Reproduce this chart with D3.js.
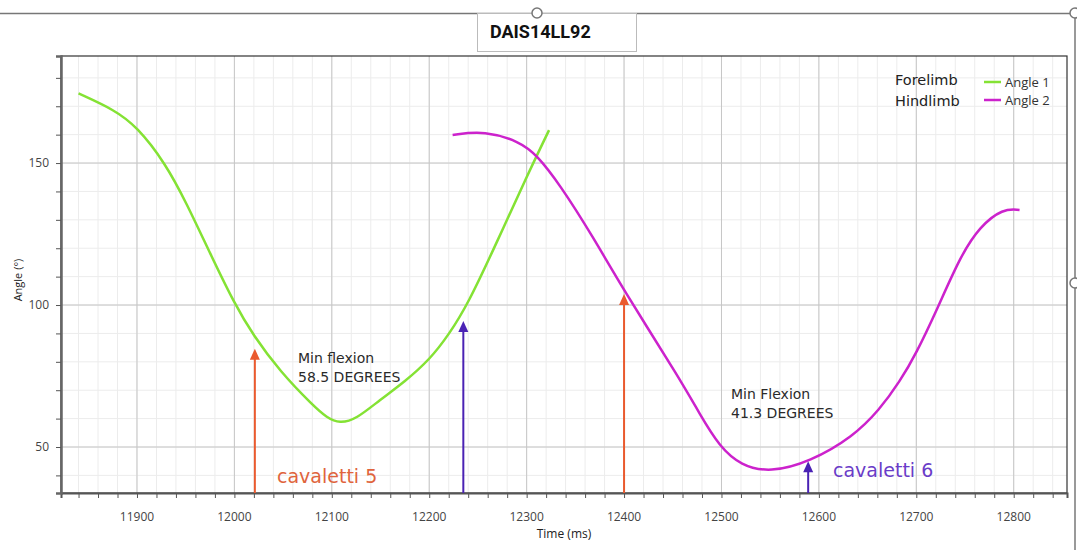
<!DOCTYPE html>
<html>
<head>
<meta charset="utf-8">
<script src="https://cdn.jsdelivr.net/npm/d3@7"></script>
<style>
  body { margin: 0; background: #fff; }
  svg { display: block; font-family: "Open Sans", sans-serif; }
</style>
</head>
<body>
<svg id="chart" width="1077" height="550"></svg>
<script>
// forelimb angle (Angle 1), time in ms
const angle1Time = [11840, 11877, 11900, 11929, 11951, 11975, 12000, 12019, 12047, 12081, 12095, 12108, 12125, 12149, 12175, 12201, 12220, 12240, 12269, 12300, 12323];
const angle1Val  = [174.5, 168.7, 162.8, 150.0, 135.8, 118.2, 100.5, 89.5, 76.5, 64.5, 60.3, 58.3, 59.8, 66.5, 73.0, 81.0, 89.5, 100.5, 121.8, 145.2, 161.6];

// hindlimb angle (Angle 2)
const angle2Time = [12224, 12257, 12293, 12310, 12334, 12368, 12400, 12458, 12477, 12498, 12520, 12550, 12591, 12635, 12662, 12683, 12700, 12721, 12745, 12765, 12789, 12806];
const angle2Val  = [159.9, 161.4, 157.5, 153.0, 142.5, 124.1, 105.0, 73.6, 62.0, 50.1, 43.5, 41.0, 44.8, 53.6, 63.0, 73.0, 83.0, 98.2, 117.0, 127.6, 134.0, 133.5];

// cavaletti markers
const arrowTime  = [12021, 12235, 12400, 12589];
const arrowTip   = [84.6, 94.4, 103.9, 45.0];
const arrowKind  = ["c5", "c6", "c5", "c6"];

const xTicks = [11900, 12000, 12100, 12200, 12300, 12400, 12500, 12600, 12700, 12800];
const yTicks = [50, 100, 150];

const W = 1077, H = 550;
const pLeft = 61, pRight = 1067, pTop = 56, pBottom = 493;

const svg = d3.select('#chart');

const x = d3.scaleLinear().domain([11822, 12854.7]).range([pLeft, pRight]);
const y = d3.scaleLinear().domain([33.8, 187.7]).range([pBottom, pTop]);

// outer window frame
svg.append('line').attr('x1', 0).attr('x2', 1075).attr('y1', 13.5).attr('y2', 13.5)
	.attr('stroke', '#777').attr('stroke-width', 1.5);
svg.append('line').attr('x1', 1075).attr('x2', 1075).attr('y1', 13).attr('y2', H)
	.attr('stroke', '#777').attr('stroke-width', 1.5);

// title box
svg.append('rect').attr('x', 477.5).attr('y', 13.5).attr('width', 159).attr('height', 38)
	.attr('fill', '#fff').attr('stroke', '#bbb');
svg.append('text').attr('x', 490).attr('y', 38)
	.attr('font-size', 18).attr('font-weight', 'bold').attr('fill', '#111')
	.attr('font-family', 'Roboto, sans-serif')
	.text('DAIS14LL92');

[[537, 13], [1075, 13], [1075, 283]].forEach(([cx, cy]) => {
	svg.append('circle').attr('cx', cx).attr('cy', cy).attr('r', 5)
		.attr('fill', '#fff').attr('stroke', '#777').attr('stroke-width', 1.5);
});

// grid
const g = svg.append('g');
const minorX = d3.range(11840, 12854, 20);
const minorY = d3.range(40, 188, 10);

g.selectAll('.mx').data(minorX).join('line')
	.attr('x1', d => x(d)).attr('x2', d => x(d)).attr('y1', pTop).attr('y2', pBottom)
	.attr('stroke', '#ececec');
g.selectAll('.my').data(minorY).join('line')
	.attr('y1', d => y(d)).attr('y2', d => y(d)).attr('x1', pLeft).attr('x2', pRight)
	.attr('stroke', '#ececec');
g.selectAll('.Mx').data(xTicks).join('line')
	.attr('x1', d => x(d)).attr('x2', d => x(d)).attr('y1', pTop).attr('y2', pBottom)
	.attr('stroke', '#c6c6c6');
g.selectAll('.My').data(yTicks).join('line')
	.attr('y1', d => y(d)).attr('y2', d => y(d)).attr('x1', pLeft).attr('x2', pRight)
	.attr('stroke', '#c6c6c6');

// plot border
svg.append('rect').attr('x', pLeft).attr('y', pTop).attr('width', pRight - pLeft).attr('height', pBottom - pTop)
	.attr('fill', 'none').attr('stroke', '#333').attr('stroke-width', 1.2);

// axes
const xAxis = d3.axisBottom(x).tickValues(minorX).tickSize(5).tickFormat('');
const yAxis = d3.axisLeft(y).tickValues(minorY).tickSize(5).tickFormat('');

svg.append('g').attr('transform', `translate(0,${pBottom})`).call(xAxis)
	.call(a => a.select('.domain').attr('stroke', '#555').attr('stroke-width', 2))
	.call(a => a.selectAll('.tick line').attr('stroke', '#555'));
svg.append('g').attr('transform', `translate(${pLeft},0)`).call(yAxis)
	.call(a => a.select('.domain').attr('stroke', '#666').attr('stroke-width', 2.5))
	.call(a => a.selectAll('.tick line').attr('stroke', '#555'));

svg.append('g').selectAll('text').data(xTicks).join('text')
	.attr('x', d => x(d)).attr('y', 521).attr('text-anchor', 'middle')
	.attr('font-size', 12).attr('fill', '#444').text(d => d);
svg.append('g').selectAll('text').data(yTicks).join('text')
	.attr('x', 49).attr('y', d => y(d) + 4).attr('text-anchor', 'end')
	.attr('font-size', 12).attr('fill', '#444').text(d => d);

svg.append('text').attr('x', 564).attr('y', 538).attr('text-anchor', 'middle')
	.attr('font-size', 12).attr('fill', '#222').text('Time (ms)');
svg.append('text').attr('transform', 'translate(22,280) rotate(-90)').attr('text-anchor', 'middle')
	.attr('font-size', 11).attr('fill', '#222').text('Angle (°)');

// curves
const line = d3.line().x(d => x(d[0])).y(d => y(d[1])).curve(d3.curveBasis);
const green = '#84e234', magenta = '#cc22cc';

svg.append('path').datum(d3.zip(angle1Time, angle1Val)).attr('d', line)
	.attr('fill', 'none').attr('stroke', green).attr('stroke-width', 2.5);
svg.append('path').datum(d3.zip(angle2Time, angle2Val)).attr('d', line)
	.attr('fill', 'none').attr('stroke', magenta).attr('stroke-width', 2.5);

// arrows
const arrowColor = { c5: '#ea5a2e', c6: '#4a22b4' };
arrowTime.forEach((t, i) => {
	const ax = x(t), ay = y(arrowTip[i]), c = arrowColor[arrowKind[i]];
	svg.append('line').attr('x1', ax).attr('x2', ax).attr('y1', pBottom).attr('y2', ay + 8)
		.attr('stroke', c).attr('stroke-width', 2);
	svg.append('path').attr('d', `M${ax},${ay} L${ax - 5},${ay + 11} L${ax + 5},${ay + 11} Z`)
		.attr('fill', c);
});

// annotations
const anno = svg.append('g').attr('font-family', '"DejaVu Sans", sans-serif');
anno.append('text').attr('x', 277).attr('y', 483).attr('font-size', 19).attr('fill', '#e0643c').text('cavaletti 5');
anno.append('text').attr('x', 833).attr('y', 477).attr('font-size', 19).attr('fill', '#6a3cc8').text('cavaletti 6');
anno.append('text').attr('x', 298).attr('y', 363).attr('font-size', 14).attr('fill', '#2a2a2a').text('Min flexion');
anno.append('text').attr('x', 298).attr('y', 382).attr('font-size', 14).attr('fill', '#2a2a2a').text('58.5 DEGREES');
anno.append('text').attr('x', 731).attr('y', 399).attr('font-size', 14).attr('fill', '#2a2a2a').text('Min Flexion');
anno.append('text').attr('x', 731).attr('y', 418).attr('font-size', 14).attr('fill', '#2a2a2a').text('41.3 DEGREES');

// legend
const leg = svg.append('g');
leg.append('text').attr('x', 895).attr('y', 85).attr('font-size', 14.5).attr('fill', '#222')
	.attr('font-family', '"DejaVu Sans", sans-serif').text('Forelimb');
leg.append('text').attr('x', 895).attr('y', 106).attr('font-size', 14.5).attr('fill', '#222')
	.attr('font-family', '"DejaVu Sans", sans-serif').text('Hindlimb');
[[green, 'Angle 1', 82], [magenta, 'Angle 2', 100]].forEach(([c, label, ly]) => {
	leg.append('line').attr('x1', 984).attr('x2', 1001).attr('y1', ly).attr('y2', ly)
		.attr('stroke', c).attr('stroke-width', 2.5);
	leg.append('text').attr('x', 1005).attr('y', ly + 4.5).attr('font-size', 13).attr('fill', '#333').text(label);
});
</script>
</body>
</html>
